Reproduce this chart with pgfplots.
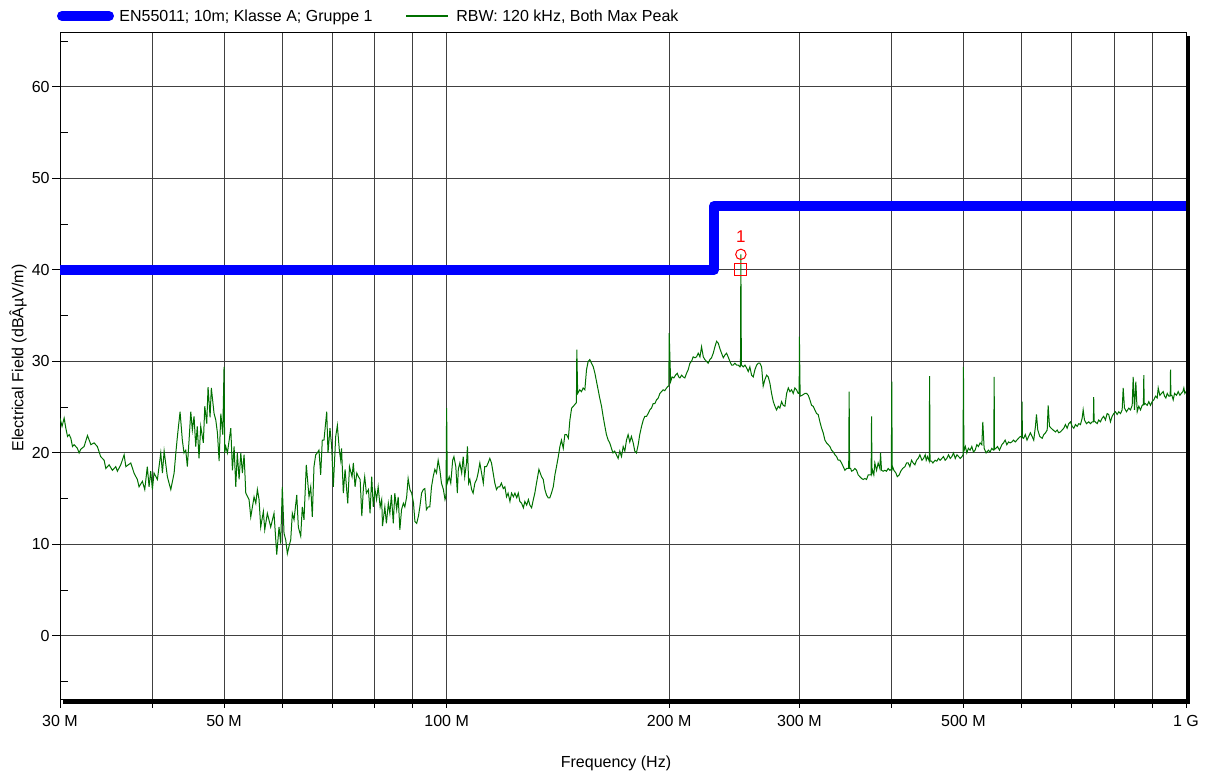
\documentclass[border=0pt]{standalone}
\usepackage{pgfplots}
\pgfplotsset{compat=1.18}
\usepackage{fontspec}
\setmainfont{Liberation Sans}
\definecolor{limblue}{RGB}{0,0,255}
\definecolor{trace}{RGB}{0,112,0}
\definecolor{mkred}{RGB}{255,0,0}
\begin{document}
\begin{tikzpicture}
\useasboundingbox (-30pt,-37pt) rectangle (573.5pt,350pt);
\begin{axis}[
  scale only axis, width=563pt, height=334pt,
  at={(0pt,0pt)}, anchor=south west,
  xmode=log, xmin=30, xmax=1000, ymin=-7, ymax=66,
  xtick={30,40,50,60,70,80,90,100,200,300,400,500,600,700,800,900,1000},
  xticklabels={30 M,,50 M,,,,,100 M,200 M,300 M,,500 M,,,,,1 G},
  minor xtick={},
  ytick={0,10,20,30,40,50,60},
  minor ytick={-5,5,15,25,35,45,55,65},
  xtick pos=bottom, ytick pos=left,
  tick align=outside,
  major tick length=4pt, minor tick length=4pt,
  minor y tick style={xshift=4pt, black, line width=0.5pt},
  major tick style={black, line width=0.5pt},
  grid=major,
  major grid style={black!75, line width=0.5pt},
  axis line style={black, line width=0.5pt},
  tick label style={font=\fontsize{8}{9.6}\selectfont},
  /pgf/number format/assume math mode=true,
  yticklabel style={inner sep=1pt},
  clip=true,
]
\addplot[limblue, line width=5pt, line join=round] coordinates {(30,40) (230,40) (230,47) (1000,47)};
\addplot[trace, line width=0.5pt] coordinates {
(30.0,23.8) (30.19,22.9) (30.39,23.8) (30.55,22.7) (30.71,21.8) (30.87,22.0) (31.03,21.6) (31.19,20.7) (31.35,20.9) (31.67,20.5)
(31.84,20.0) (32.0,20.4) (32.34,20.7) (32.68,21.9) (33.03,20.9) (33.36,21.1) (33.7,20.7) (34.05,19.6) (34.42,19.2) (34.6,18.3)
(34.96,18.7) (35.32,18.1) (35.69,18.5) (35.87,18.0) (36.25,18.7) (36.63,19.8) (36.83,18.5) (37.4,18.9) (37.78,17.8) (38.17,17.1)
(38.38,16.3) (38.78,16.9) (39.07,16.0) (39.38,18.5) (39.59,16.3) (39.8,18.0) (40.0,16.0) (40.2,17.8) (40.63,17.1) (41.06,20.0)
(41.27,17.8) (41.49,20.2) (41.91,17.4) (42.13,16.7) (42.36,16.0) (42.8,17.8) (43.03,20.0) (43.24,21.8) (43.6,24.5) (43.91,21.4)
(44.14,20.0) (44.38,20.3) (44.6,18.5) (44.84,21.4) (45.08,24.5) (45.3,22.5) (45.54,24.0) (45.78,20.7) (46.0,22.9) (46.25,19.4)
(46.5,22.9) (46.88,21.1) (47.09,25.1) (47.38,23.2) (47.57,27.2) (47.87,23.9) (48.06,27.1) (48.47,24.3) (48.73,23.6) (48.98,22.2)
(49.24,19.1) (49.5,24.3) (49.8,22.0) (50.0,29.4) (50.1,20.0) (50.27,20.7) (50.53,20.0) (51.06,22.7) (51.32,18.1) (51.59,20.7)
(51.86,16.3) (52.11,20.0) (52.4,17.1) (52.68,20.0) (52.94,17.8) (53.22,19.8) (53.5,15.6) (54.05,14.9) (54.34,13.0) (54.9,15.2)
(55.2,14.5) (55.47,16.0) (55.76,14.9) (56.05,11.9) (56.51,13.6) (56.76,11.6) (57.22,13.4) (57.82,11.9) (58.42,13.4) (58.92,8.9)
(59.34,11.9) (59.65,10.1) (59.95,16.3) (60.27,11.2) (60.59,10.5) (60.9,9.0) (61.22,9.8) (61.54,10.5) (61.85,13.4) (62.18,12.7)
(62.71,15.4) (63.02,11.9) (63.49,10.9) (63.8,14.1) (64.14,12.7) (64.6,18.7) (65.15,15.2) (65.5,16.3) (65.82,13.0) (66.17,18.5)
(66.52,19.8) (66.85,20.0) (67.2,20.3) (67.56,17.6) (67.9,21.4) (68.26,21.4) (68.84,24.5) (69.12,20.0) (69.55,22.7) (69.91,20.7)
(70.27,16.3) (70.8,21.8) (71.16,23.0) (71.6,20.3) (71.91,19.2)
(72.1,20.5) (72.5,15.6) (72.9,18.2) (73.5,14.5) (73.9,18.5) (74.5,17.4) (74.8,18.9) (75.2,16.3) (75.6,17.8) (76.0,17.4)
(76.4,17.1) (76.8,13.1) (77.2,16.3) (77.5,17.4) (77.9,15.6) (78.4,16.0) (78.8,13.4) (79.2,17.4) (79.6,14.1) (80.0,16.0)
(80.4,14.9) (80.8,16.3) (81.3,14.1) (81.7,14.9) (81.9,12.0) (82.5,14.1) (82.9,12.3) (83.4,14.5) (83.8,13.4) (84.2,15.4)
(84.7,12.3) (85.1,15.6) (85.6,13.8) (86.0,15.2) (86.45,11.6) (86.9,13.8) (87.4,14.5) (87.8,14.1) (88.3,15.2) (88.7,17.2)
(89.2,16.0) (89.7,15.6) (90.2,14.5) (90.6,12.5) (91.1,12.3) (91.6,13.1) (92.0,14.1) (92.5,15.6) (93.0,16.0) (93.45,16.1)
(93.9,13.8) (94.4,14.1) (94.9,14.1) (95.4,16.3) (95.9,17.4) (96.4,18.2) (96.9,17.8) (97.4,19.2) (97.9,18.2) (98.4,16.7)
(99.0,16.0) (99.5,14.9) (99.8,15.3) (100.0,24.9) (100.2,16.7) (100.8,17.4) (101.3,16.7) (101.9,19.2) (102.3,19.6) (102.9,18.5)
(103.4,15.6) (103.7,18.2) (104.2,18.9) (104.8,17.8) (105.3,19.6) (105.8,17.4) (106.4,18.9) (106.7,20.7) (107.1,16.7) (107.5,17.1)
(108.1,16.0) (108.6,15.6) (109.2,16.7) (109.8,17.1) (110.3,17.8) (110.9,18.9) (111.5,17.8) (112.1,16.7) (112.6,18.5) (113.2,18.5)
(113.8,18.9) (114.4,19.4) (115.0,18.9) (115.6,17.8) (116.2,16.7) (116.8,16.0) (117.4,16.3) (118.0,16.3) (118.6,16.7) (119.3,16.1)
(119.9,16.3) (120.5,15.2) (121.1,15.6) (121.8,14.7) (122.4,15.6) (123.1,15.2) (123.7,15.6) (124.4,15.1) (125.0,15.6) (125.6,14.7)
(126.3,14.5) (127.0,14.0) (127.6,14.7) (128.3,14.3) (129.0,14.9) (129.6,14.3) (130.3,14.0) (131.0,14.9) (131.6,15.6) (132.3,16.7)
(133.3,18.2) (134.4,17.4) (135.1,17.1) (135.8,16.0) (136.5,15.4) (137.2,15.1) (137.9,15.1) (138.6,15.6) (139.4,16.3) (140.1,17.6)
(140.8,18.5) (141.6,19.6) (142.3,20.7) (143.0,21.4) (143.8,20.5) (144.5,22.0) (145.3,22.0) (146.1,21.6) (146.8,23.6) (147.6,24.9)
(148.4,25.1) (149.1,25.3) (149.8,25.5) (150.0,31.3) (150.4,26.5) (151.4,26.9) (152.2,26.7) (153.0,27.1) (153.8,26.9) (154.6,29.1)
(155.4,30.0) (156.2,30.2) (157.0,29.8) (157.9,29.4) (158.7,28.7) (159.5,27.8) (160.3,26.9) (161.1,26.0) (162.0,25.1) (162.8,24.0)
(163.7,22.9) (164.5,22.0) (165.4,21.4) (166.2,21.1) (167.1,20.5) (167.9,20.0) (168.8,20.2) (169.7,19.8) (170.6,19.4) (171.5,20.2)
(172.4,19.6) (173.3,20.7) (174.2,20.2) (175.1,21.4) (176.0,22.0) (176.9,21.2) (177.8,21.8) (178.8,21.1) (179.7,20.2) (180.6,20.0)
(181.6,20.9) (182.5,22.0)
(183.5,22.9) (184.5,23.6) (185.4,24.0) (186.4,24.0) (187.3,24.3) (188.3,24.7) (189.3,24.9) (190.3,25.4) (191.3,25.4) (192.3,25.8)
(193.3,26.0) (194.3,26.5) (195.3,26.7) (196.3,26.9) (197.3,26.8) (198.4,27.1) (199.4,27.3) (199.8,27.3) (200.0,33.1) (200.9,27.8)
(201.9,28.3) (202.9,28.2) (204.0,28.5) (205.1,28.7) (206.0,28.3) (206.8,28.2) (207.9,28.5) (208.9,28.3) (210.0,28.2) (211.1,28.7)
(212.2,29.1) (213.3,29.8) (214.4,30.0) (215.5,30.5) (216.7,30.4) (217.8,30.5) (218.9,30.9) (220.1,30.5) (221.2,31.6) (222.4,30.5)
(223.5,30.2) (224.7,30.0) (225.8,29.8) (227.0,30.2) (228.2,30.4) (229.4,30.9) (230.6,31.6) (231.8,32.2) (233.0,32.0) (234.2,31.4)
(235.4,30.9) (236.7,30.4) (237.9,30.7) (239.1,30.9) (240.3,30.5) (241.6,30.0) (242.9,29.6) (244.1,29.6) (245.4,29.8) (246.7,29.6)
(248.0,29.6) (249.3,29.4) (249.7,29.5) (250.0,41.7) (250.4,29.6) (251.9,29.4) (253.2,29.6) (254.5,29.3) (255.8,28.9) (257.1,29.4)
(258.5,28.5) (259.8,28.3) (261.2,29.1) (262.6,29.6) (263.9,29.8) (265.3,29.8) (266.7,29.4) (268.0,27.3) (269.4,28.0) (270.9,28.5)
(272.3,28.3) (273.7,27.6) (275.1,26.5) (276.6,25.6) (278.0,25.1) (279.4,24.7) (280.9,25.1) (282.3,24.9) (283.8,25.6) (285.3,25.2)
(286.8,25.1) (288.3,26.5) (289.8,27.1) (291.3,26.7) (292.8,26.9) (294.3,26.5) (295.8,27.1) (297.3,26.9) (298.9,26.5) (299.8,26.5)
(300.0,32.7) (300.7,26.2) (302.6,26.3) (305.2,26.5) (306.8,26.5) (308.4,26.3) (310.0,25.8) (311.6,25.2) (313.2,25.1) (314.8,24.7)
(316.5,24.3) (318.1,24.2) (319.8,23.4) (321.5,22.7) (323.1,22.2) (324.8,21.4) (326.5,21.1) (328.2,20.9) (329.9,20.7) (331.6,20.3)
(333.4,20.1) (335.1,19.8) (336.8,19.6) (338.6,19.2) (340.3,19.2) (342.1,18.9) (343.9,18.5) (345.7,18.1) (347.5,18.3) (349.3,18.3)
(349.8,18.3) (350.3,26.7) (350.8,18.3) (351.9,18.3) (353.0,18.0) (354.8,18.1) (356.6,18.3) (358.5,18.1) (360.3,17.6) (362.2,17.4)
(364.1,17.2) (366.0,17.1) (367.9,17.2) (369.8,17.1) (371.7,17.6) (373.6,17.6) (375.1,17.6) (375.6,24.0) (376.1,17.8) (376.8,18.1)
(378.3,17.6) (379.5,18.9) (381.5,18.1) (383.4,18.9) (385.5,18.3) (386.3,20.0) (387.5,18.1) (389.5,18.0) (391.5,18.1) (393.5,18.0)
(395.6,18.3) (397.7,18.1) (399.5,18.2) (400.0,27.8) (400.5,18.3) (401.0,18.5) (402.6,18.1) (405.2,17.8) (406.9,17.4) (409.4,17.6)
(411.3,18.0) (413.8,18.3) (416.7,18.5) (418.9,18.9) (421.0,18.9) (423.2,18.5) (425.4,19.2) (427.6,18.9) (429.9,18.7) (432.1,19.2)
(434.3,19.4) (436.6,19.8)
(439.3,19.2) (441.6,19.4) (443.9,19.8) (445.3,19.2) (447.1,19.6) (449.5,19.1) (450.0,28.4) (450.6,19.1) (452.7,19.1) (454.6,18.9)
(457.8,19.2) (460.2,19.1) (462.6,19.4) (465.0,19.2) (467.5,19.4) (469.9,19.6) (472.3,19.2) (474.8,19.4) (477.3,19.8) (479.8,19.4)
(482.3,19.6) (484.8,20.0) (487.4,19.4) (490.0,19.8) (492.5,19.6) (495.2,19.4) (497.8,19.6) (499.4,19.8) (500.0,29.4) (500.7,20.2)
(503.1,20.7) (505.3,20.0) (507.8,20.5) (510.5,20.3) (513.2,20.7) (515.8,20.1) (518.5,20.3) (521.3,20.9) (523.9,20.7) (526.7,21.1)
(529.5,20.9) (531.1,23.4) (533.3,20.5) (536.6,20.0) (540.5,20.3) (543.3,20.1) (546.2,20.5) (549.0,20.3) (549.6,20.3) (550.2,28.3)
(550.8,20.4) (553.1,20.5) (555.9,20.7) (559.4,20.3) (563.6,20.9) (566.4,21.1) (569.4,21.4) (572.4,20.9) (575.4,21.2) (578.4,21.1)
(581.4,21.2) (584.4,21.4) (587.5,21.2) (590.6,21.4) (593.6,21.6) (596.8,21.8) (599.6,21.7) (600.2,25.6) (600.8,21.7) (603.1,21.6)
(606.3,22.0) (609.5,21.4) (612.6,21.8) (615.9,22.2) (619.2,21.8) (622.4,21.4) (625.7,22.9) (627.7,24.2) (630.3,22.5) (634.2,21.8)
(639.0,21.6) (642.2,22.0) (645.6,22.2) (649.0,22.5) (651.0,25.2) (653.7,22.9) (657.1,22.7) (661.2,22.5) (666.0,22.3) (669.5,22.5)
(672.8,22.2) (676.4,22.3) (680.0,22.5) (683.4,22.7) (687.0,23.1) (690.7,22.7) (694.2,23.2) (697.9,23.4) (701.6,22.9) (705.1,22.7)
(708.8,23.1) (712.6,22.9) (716.1,23.2) (719.9,23.1) (723.7,23.8) (726.0,24.7) (729.0,23.6) (733.5,23.2) (738.8,23.4) (742.7,23.2)
(746.6,23.4) (749.5,23.4) (750.3,26.1) (751.2,23.5) (753.6,23.4) (758.3,23.2) (762.1,23.6) (766.1,23.4) (770.2,23.8) (774.0,24.0)
(778.1,23.6) (782.3,24.3) (786.2,24.2) (790.4,23.4) (794.6,24.0) (798.6,24.3) (802.8,24.5) (807.0,24.2) (811.1,24.5) (815.4,24.3)
(819.7,24.7) (822.3,27.1) (825.6,24.9) (830.8,24.5) (836.8,24.9) (841.2,24.7) (845.7,25.2) (848.3,28.3) (851.8,24.7) (855.3,27.8)
(859.0,24.5) (863.3,25.1) (867.8,24.7) (872.4,25.2) (875.8,25.3) (876.8,28.5) (878.0,25.3) (880.6,25.4) (886.1,25.2) (890.6,25.6)
(895.2,25.2) (899.9,25.6) (904.6,25.8) (909.4,26.2) (914.2,26.0) (917.1,27.1) (921.7,26.3) (926.6,26.5) (931.5,26.7) (935.3,26.2)
(939.1,26.0) (943.2,26.5) (947.9,26.2) (951.9,26.2) (952.9,29.1) (954.0,26.3) (956.8,26.3) (960.9,25.8) (964.9,26.5) (970.9,26.3)
(976.0,26.7) (981.0,26.3) (985.3,26.5) (990.2,26.7) (993.3,27.1) (996.4,26.5) (1000,26.7)
};
\addplot[mkred, only marks, mark=o, mark size=2.6pt, mark options={line width=0.5pt}] coordinates {(250,41.7)};
\addplot[mkred, only marks, mark=square, mark size=3pt, mark options={line width=0.5pt}] coordinates {(250,40)};
\node[mkred, font=\fontsize{8.5}{10}\selectfont, inner sep=0pt] at (axis cs:250,43.6) {1};
\end{axis}
% shadow-like thick frame on right and bottom
\draw[black, line width=2pt] (564pt,332pt) -- (564pt,-1pt) -- (1.5pt,-1pt);
% legend
\draw[limblue, line width=5pt, line cap=round] (1pt,342pt) -- (24.5pt,342pt);
\node[anchor=base west, inner sep=0pt, font=\fontsize{8}{9.6}\selectfont] at (29.5pt,339.2pt) {EN55011; 10m; Klasse A; Gruppe 1};
\draw[trace, line width=0.7pt] (173pt,342pt) -- (194pt,342pt);
\node[anchor=base west, inner sep=0pt, font=\fontsize{8}{9.6}\selectfont] at (198pt,339.2pt) {RBW: 120 kHz, Both Max Peak};
% axis labels
\node[font=\fontsize{8}{9.6}\selectfont] at (278pt,-31.5pt) {Frequency (Hz)};
\node[font=\fontsize{8}{9.6}\selectfont, rotate=90] at (-21pt,171pt) {Electrical Field (dBÂµV/m)};
\end{tikzpicture}
\end{document}
